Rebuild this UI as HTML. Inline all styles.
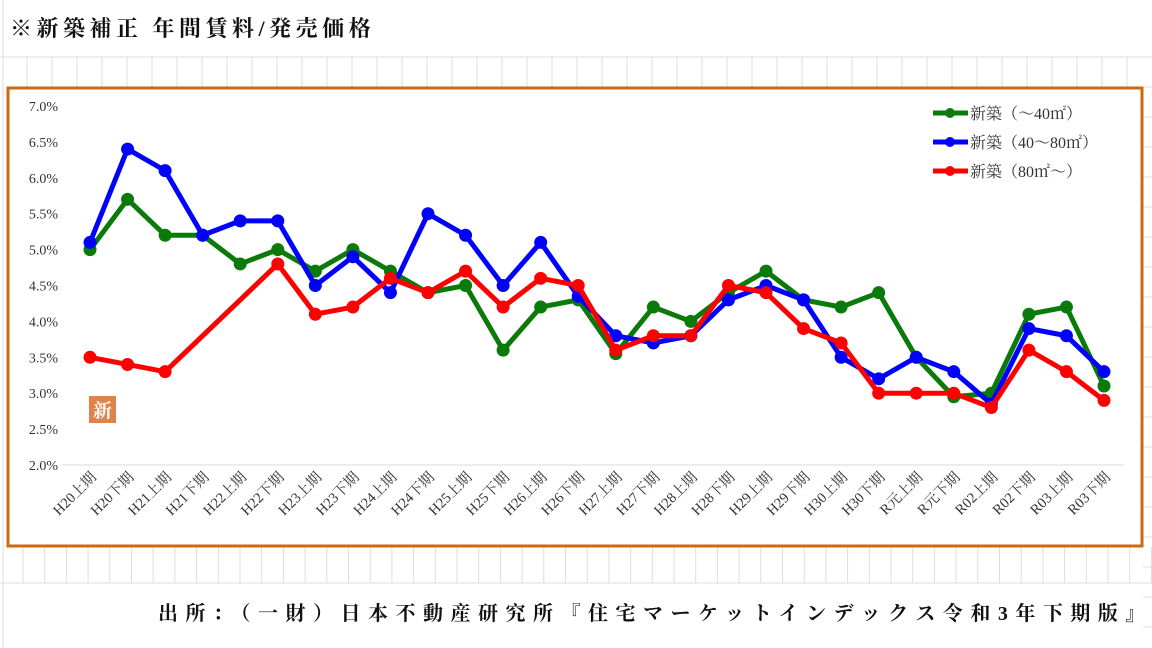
<!DOCTYPE html>
<html><head><meta charset="utf-8"><style>
body{margin:0;width:1152px;height:648px;background:#fff;overflow:hidden;position:relative;font-family:"Liberation Serif","Noto Serif CJK SC",serif}
#title{position:absolute;left:10px;top:12px;font-size:22px;font-weight:bold;color:#111;font-family:"Liberation Serif","Noto Serif CJK SC",serif;letter-spacing:4.5px;white-space:nowrap}
#foot{position:absolute;left:158px;top:597px;font-size:20px;font-weight:bold;color:#111;letter-spacing:7.5px;white-space:nowrap}
svg{position:absolute;left:0;top:0}
</style></head><body>
<svg width="1152" height="648" id="grid"></svg>
<div id="title">※新築補正 年間賃料/発売価格</div>
<svg width="1152" height="648" id="chart"></svg>
<div id="foot">出所：（一財）日本不動産研究所『住宅マーケットインデックス令和3年下期版』</div>
<script>
const categories=["H20上期","H20下期","H21上期","H21下期","H22上期","H22下期","H23上期","H23下期","H24上期","H24下期","H25上期","H25下期","H26上期","H26下期","H27上期","H27下期","H28上期","H28下期","H29上期","H29下期","H30上期","H30下期","R元上期","R元下期","R02上期","R02下期","R03上期","R03下期"];
const small=[5.0,5.7,5.2,5.2,4.8,5.0,4.7,5.0,4.7,4.4,4.5,3.6,4.2,4.3,3.55,4.2,4.0,4.4,4.7,4.3,4.2,4.4,3.5,2.95,3.0,4.1,4.2,3.1];
const medium=[5.1,6.4,6.1,5.2,5.4,5.4,4.5,4.9,4.4,5.5,5.2,4.5,5.1,4.35,3.8,3.7,3.8,4.3,4.5,4.3,3.5,3.2,3.5,3.3,2.85,3.9,3.8,3.3];
const large=[3.5,3.4,3.3,null,null,4.8,4.1,4.2,4.6,4.4,4.7,4.2,4.6,4.5,3.6,3.8,3.8,4.5,4.4,3.9,3.7,3.0,3.0,3.0,2.8,3.6,3.3,2.9];
const yTicks=[2.0,2.5,3.0,3.5,4.0,4.5,5.0,5.5,6.0,6.5,7.0];
const seriesNames=["新築（～40㎡）","新築（40～80㎡）","新築（80㎡～）"];
const NS="http://www.w3.org/2000/svg";
function mk(p,t,a){const e=document.createElementNS(NS,t);for(const k in a)e.setAttribute(k,a[k]);p.appendChild(e);return e;}
const g=document.getElementById('grid');
mk(g,'line',{x1:3,y1:0,x2:3,y2:648,stroke:'#ddd'});
mk(g,'line',{x1:0,y1:57,x2:1152,y2:57,stroke:'#ddd'});
for(let x=27;x<1152;x+=25)mk(g,'line',{x1:x,y1:57,x2:x,y2:88,stroke:'#ddd'});
mk(g,'line',{x1:0,y1:583,x2:1152,y2:583,stroke:'#ddd'});
for(let x=23;x<1152;x+=21.7)mk(g,'line',{x1:x,y1:547,x2:x,y2:583,stroke:'#ddd'});
for(let y=57;y<648;y+=30)mk(g,'line',{x1:1143,y1:y,x2:1152,y2:y,stroke:'#ddd'});
const c=document.getElementById('chart');
const frame=mk(c,'rect',{x:8,y:88,width:1134,height:458,fill:'#fff',stroke:'#cc6a10','stroke-width':3});


const X=i=>90+i*(1104-90)/(categories.length-1);
const Y=v=>465-(v-2)*71.8;
mk(c,'line',{x1:62,y1:Y(2),x2:1124,y2:Y(2),stroke:'#d9d9d9'});
yTicks.forEach(t=>{const e=mk(c,'text',{x:58,y:Y(t)+5,'text-anchor':'end','font-size':14,fill:'#333'});e.textContent=t.toFixed(1)+'%';

});
categories.forEach((s,i)=>{const x=X(i)+7,y=478;const e=mk(c,'text',{x:x,y:y,'text-anchor':'end','font-size':14.5,fill:'#333',transform:`rotate(-45 ${x} ${y})`});e.textContent=s;

});
const st=mk(c,'rect',{x:89,y:396,width:27,height:27,fill:'#e0834a'});


const stt=mk(c,'text',{x:102.5,y:417,'text-anchor':'middle','font-size':19,'font-weight':'bold',fill:'#fff'});stt.textContent='新';
const cols=['#0a7a0a','#0000ff','#ff0000'];
[small,medium,large].forEach((arr,si)=>{
 const pts=[];arr.forEach((v,i)=>{if(v!=null)pts.push([X(i),Y(v)]);});
 const pl=mk(c,'polyline',{points:pts.map(p=>p.join(',')).join(' '),fill:'none',stroke:cols[si],'stroke-width':5,'stroke-linejoin':'round'});
 
 
 pts.forEach(p=>{const d=mk(c,'circle',{cx:p[0],cy:p[1],r:6.5,fill:cols[si]});
 
 });
 const ly=113+si*29;
 mk(c,'line',{x1:933,y1:ly,x2:968,y2:ly,stroke:cols[si],'stroke-width':5});
 mk(c,'circle',{cx:950,cy:ly,r:5,fill:cols[si]});
 const t=mk(c,'text',{x:970,y:ly+6,'font-size':16,fill:'#333'});t.textContent=seriesNames[si];
 
 
});
</script>
</body></html>
